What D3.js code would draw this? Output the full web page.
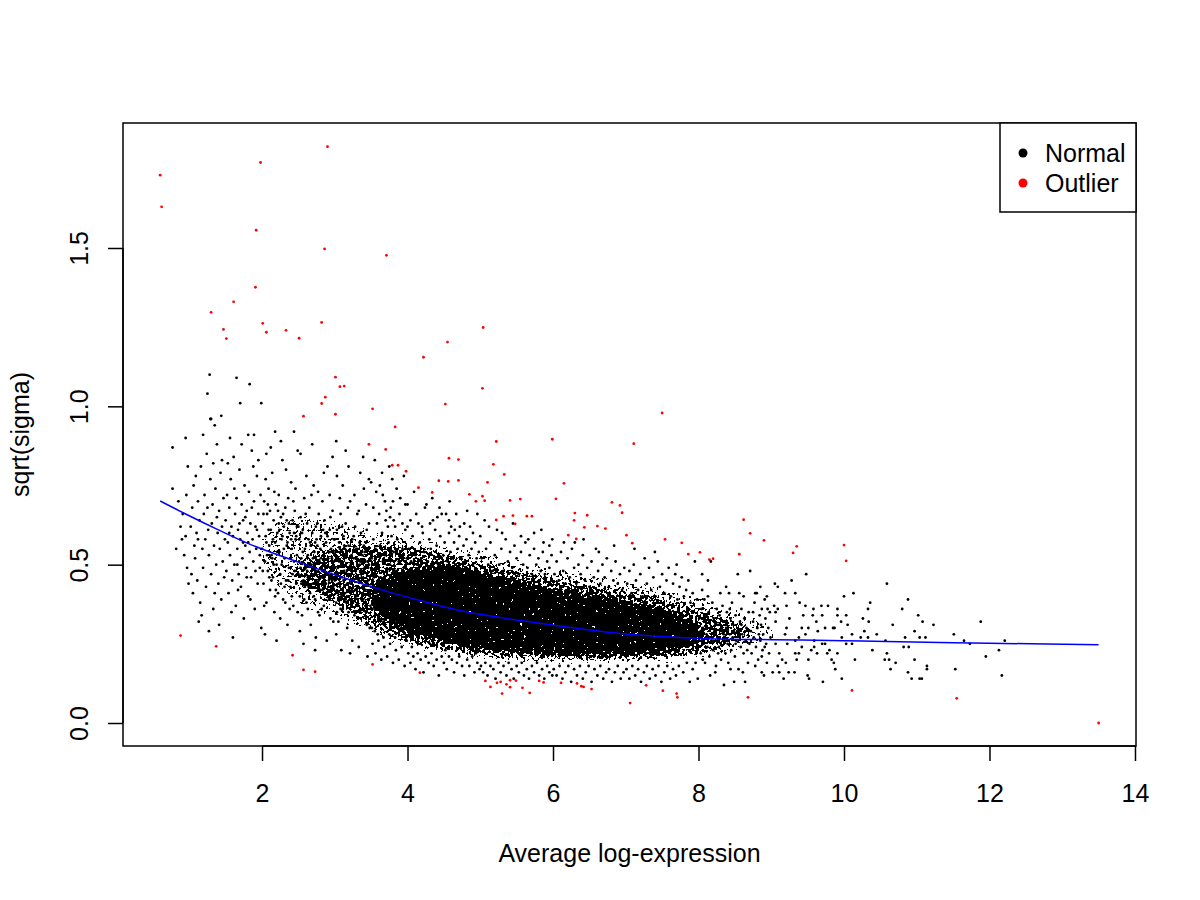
<!DOCTYPE html>
<html>
<head>
<meta charset="utf-8">
<script src="https://cdn.jsdelivr.net/npm/d3@7"></script>
<style>
  body { margin: 0; background: #fff; }
  svg text { font-family: "Liberation Sans", Arial, Helvetica, sans-serif; }
</style>
</head>
<body>
<svg width="1200" height="900"></svg>
<script>
// sigma vs average log-expression (limma plotSA style)
const xTicks = [2, 4, 6, 8, 10, 12, 14];
const yTicks = [0, 0.5, 1.0, 1.5];

// genes flagged as normal: [Amean, sqrt(sigma)]
const normalPts = [
  [.77,.87],[.95,.90],[.77,.74],[.96,.72],[.93,.53],[.95,.59],[.99,.44],[.88,.62],[.82,.55],[.91,.66],[.97,.49],[.85,.70],[.98,.81],[.90,.58],
  [1.03,.47],[1.05,.41],[1.07,.56],[1.13,.32],[1.27,.29],[1.30,.96],[1.35,.94],[1.28,1.10],[1.25,1.04],[1.29,.96],[1.44,.97],
  [1.02,.62],[1.04,.68],[1.06,.75],[1.08,.52],[1.10,.60],[1.11,.45],[1.12,.70],[1.14,.64],[1.15,.38],[1.16,.81],[1.18,.55],[1.19,.49],[1.20,.66],[1.21,.72],[1.22,.58],[1.23,.43],[1.24,.85],[1.26,.61],[1.27,.53],[1.29,.77],[1.30,.47],[1.31,.63],[1.32,.69],[1.33,.36],[1.34,.56],[1.36,.74],[1.37,.50],[1.38,.88],[1.39,.60],[1.40,.44],[1.41,.67],[1.42,.55],[1.43,.79],[1.44,.39],[1.45,.62],[1.46,.51],[1.47,.71],[1.48,.46],[1.49,.58],[1.09,.78],[1.17,.34],[1.25,.68],[1.35,.41],[1.45,.83],[1.19,.91],[1.33,.82],[1.41,.31],[1.12,.58],[1.38,.65],
  [1.65,1.09],[1.83,1.07],[1.70,1.01],[1.99,1.01],[1.56,.90],[1.81,.91],[1.89,.91],
  [1.50,.64],[1.51,.48],[1.52,.72],[1.53,.57],[1.54,.41],[1.55,.68],[1.56,.53],[1.57,.77],[1.58,.62],[1.59,.45],[1.60,.59],[1.61,.84],[1.62,.50],[1.63,.66],[1.64,.37],[1.65,.71],[1.66,.55],[1.67,.61],[1.68,.47],[1.69,.80],[1.70,.58],[1.71,.43],[1.72,.69],[1.73,.52],[1.74,.64],[1.75,.33],[1.76,.75],[1.77,.56],[1.78,.49],[1.79,.67],[1.80,.60],[1.81,.40],[1.82,.73],[1.83,.54],[1.84,.63],[1.85,.46],[1.86,.86],[1.87,.58],[1.88,.51],[1.89,.70],[1.90,.36],[1.91,.62],[1.92,.55],[1.93,.78],[1.94,.44],[1.95,.66],[1.96,.59],[1.97,.49],[1.98,.72],[1.99,.30],[1.53,.82],[1.58,.35],[1.62,.74],[1.67,.42],[1.72,.88],[1.77,.65],[1.84,.39],[1.88,.81],[1.93,.61],[1.97,.53],[1.55,.60],[1.66,.50],[1.74,.57],[1.79,.46],[1.86,.68],[1.91,.48],[1.60,.27],[1.95,.83],[1.69,.63],[1.81,.57],
  [2.26,.89],[2.18,.92],[2.44,.92],[2.06,.85],
  [2.00,.55],[2.01,.63],[2.02,.44],[2.03,.70],[2.04,.51],[2.05,.59],[2.06,.38],[2.07,.66],[2.08,.48],[2.09,.74],[2.10,.56],[2.11,.42],[2.12,.61],[2.13,.53],[2.14,.79],[2.15,.46],[2.16,.64],[2.17,.35],[2.18,.57],[2.19,.69],[2.20,.50],[2.21,.60],[2.22,.41],[2.23,.72],[2.24,.54],[2.25,.47],[2.26,.65],[2.27,.58],[2.28,.83],[2.29,.39],[2.30,.62],[2.31,.52],[2.32,.68],[2.33,.45],[2.34,.56],[2.35,.31],[2.36,.71],[2.37,.49],[2.38,.60],[2.39,.43],[2.40,.76],[2.41,.55],[2.42,.64],[2.43,.37],[2.44,.51],[2.45,.67],[2.46,.58],[2.47,.44],[2.48,.62],[2.49,.86],
  [2.01,.48],[2.03,.37],[2.05,.77],[2.07,.53],[2.09,.61],[2.11,.67],[2.13,.45],[2.15,.58],[2.17,.73],[2.19,.42],[2.21,.54],[2.23,.63],[2.25,.33],[2.27,.50],[2.29,.66],[2.31,.43],[2.33,.80],[2.35,.57],[2.37,.63],[2.39,.52],[2.41,.40],[2.43,.70],[2.45,.48],[2.47,.59],[2.49,.35],
  [2.02,.66],[2.06,.57],[2.10,.46],[2.14,.52],[2.18,.40],[2.22,.67],[2.26,.44],[2.30,.55],[2.34,.64],[2.38,.36],[2.42,.47],[2.46,.74],[2.04,.28],[2.12,.87],[2.20,.26],[2.28,.59],[2.36,.45],[2.44,.60],[2.48,.53],[2.16,.50],[2.24,.61],[2.32,.38],[2.40,.58],[2.08,.69],
  [2.50,.47],[2.51,.58],[2.52,.40],[2.53,.65],[2.54,.52],[2.55,.34],[2.56,.61],[2.57,.45],[2.58,.71],[2.59,.55],[2.60,.49],[2.61,.38],[2.62,.63],[2.63,.53],[2.64,.43],[2.65,.68],[2.66,.57],[2.67,.31],[2.68,.50],[2.69,.60],[2.70,.44],[2.71,.75],[2.72,.54],[2.73,.39],[2.74,.62],[2.75,.48],[2.76,.56],[2.77,.35],[2.78,.66],[2.79,.51],[2.80,.42],[2.81,.59],[2.82,.46],[2.83,.70],[2.84,.53],[2.85,.37],[2.86,.64],[2.87,.49],[2.88,.57],[2.89,.41],[2.90,.81],[2.91,.52],[2.92,.45],[2.93,.61],[2.94,.33],[2.95,.55],[2.96,.48],[2.97,.67],[2.98,.43],[2.99,.58],
  [2.50,.62],[2.52,.29],[2.54,.44],[2.56,.54],[2.58,.39],[2.60,.66],[2.62,.48],[2.64,.58],[2.66,.41],[2.68,.72],[2.70,.52],[2.72,.47],[2.74,.27],[2.76,.63],[2.78,.45],[2.80,.55],[2.82,.36],[2.84,.61],[2.86,.50],[2.88,.44],[2.90,.59],[2.92,.39],[2.94,.65],[2.96,.52],[2.98,.32],
  [2.51,.51],[2.55,.60],[2.59,.43],[2.63,.46],[2.67,.56],[2.71,.40],[2.75,.58],[2.79,.34],[2.83,.48],[2.87,.60],[2.91,.43],[2.95,.47],[2.99,.51],[2.53,.85],[2.61,.78],[2.69,.88],[2.77,.73],[2.85,.79],[2.93,.72],[2.97,.84],[2.57,.25],[2.73,.23],[2.89,.26],[2.65,.50],[2.81,.52],[2.53,.49],[2.63,.36],[2.73,.57],[2.83,.42],[2.93,.54],
  [3.02,.89],
  [3.00,.45],[3.01,.54],[3.02,.38],[3.03,.61],[3.04,.49],[3.05,.32],[3.06,.57],[3.07,.43],[3.08,.66],[3.09,.51],[3.10,.46],[3.11,.36],[3.12,.59],[3.13,.48],[3.14,.41],[3.15,.63],[3.16,.53],[3.17,.30],[3.18,.47],[3.19,.56],[3.20,.42],[3.21,.70],[3.22,.50],[3.23,.37],[3.24,.58],[3.25,.45],[3.26,.52],[3.27,.34],[3.28,.62],[3.29,.48],[3.30,.40],[3.31,.55],[3.32,.43],[3.33,.67],[3.34,.50],[3.35,.35],[3.36,.60],[3.37,.46],[3.38,.53],[3.39,.39],[3.40,.74],[3.41,.49],[3.42,.42],[3.43,.57],[3.44,.31],[3.45,.51],[3.46,.45],[3.47,.63],[3.48,.40],[3.49,.54],
  [3.00,.58],[3.02,.28],[3.04,.41],[3.06,.51],[3.08,.36],[3.10,.62],[3.12,.45],[3.14,.55],[3.16,.38],[3.18,.68],[3.20,.49],[3.22,.44],[3.24,.26],[3.26,.59],[3.28,.42],[3.30,.52],[3.32,.33],[3.34,.57],[3.36,.47],[3.38,.41],[3.40,.56],[3.42,.37],[3.44,.61],[3.46,.49],[3.48,.30],
  [3.01,.47],[3.03,.35],[3.05,.44],[3.07,.55],[3.09,.40],[3.11,.50],[3.13,.56],[3.15,.39],[3.17,.44],[3.19,.35],[3.21,.47],[3.23,.53],[3.25,.38],[3.27,.49],[3.29,.55],[3.31,.37],[3.33,.45],[3.35,.51],[3.37,.39],[3.39,.48],[3.41,.54],[3.43,.35],[3.45,.44],[3.47,.50],[3.49,.37],
  [3.03,.78],[3.11,.75],[3.19,.81],[3.27,.72],[3.35,.79],[3.43,.69],[3.09,.23],[3.21,.22],[3.33,.24],[3.45,.21],[3.15,.86],[3.39,.84],[3.07,.71],[3.31,.66],[3.47,.77],
  [3.79,.77],[3.66,.72],[3.80,.70],[3.62,.75],[3.76,.65],[3.70,.64],[3.50,.76],
  [3.50,.43],[3.51,.52],[3.52,.36],[3.53,.58],[3.54,.46],[3.55,.29],[3.56,.55],[3.57,.41],[3.58,.63],[3.59,.49],[3.60,.44],[3.61,.33],[3.62,.56],[3.63,.46],[3.64,.39],[3.65,.60],[3.66,.51],[3.67,.27],[3.68,.44],[3.69,.53],[3.70,.40],[3.71,.67],[3.72,.48],[3.73,.34],[3.74,.57],[3.75,.43],[3.76,.50],[3.77,.31],[3.78,.59],[3.79,.46],[3.80,.38],[3.81,.54],[3.82,.41],[3.83,.62],[3.84,.48],[3.85,.32],[3.86,.58],[3.87,.44],[3.88,.51],[3.89,.36],[3.90,.71],[3.91,.47],[3.92,.39],[3.93,.55],[3.94,.29],[3.95,.49],[3.96,.42],[3.97,.61],[3.98,.37],[3.99,.52],
  [3.52,.25],[3.56,.22],[3.60,.26],[3.64,.20],[3.68,.24],[3.72,.21],[3.76,.25],[3.80,.19],[3.84,.23],[3.88,.20],[3.92,.24],[3.96,.18],
  [3.53,.68],[3.57,.73],[3.61,.66],[3.65,.79],[3.69,.70],[3.73,.62],[3.77,.68],[3.81,.64],[3.85,.74],[3.89,.66],[3.93,.63],[3.97,.69],[3.55,.83],[3.75,.81],[3.95,.78],
  [3.51,.30],[3.59,.28],[3.67,.32],[3.75,.28],[3.83,.27],[3.91,.30],[3.99,.26],
  [4.09,.73],[4.26,.69],[4.00,.69],[4.24,.68],[4.44,.68],[4.67,.66],[4.96,.66],[4.53,.66],[4.47,.66],[4.15,.63],[4.00,.62],[4.38,.61],[4.60,.62],[4.72,.62],[4.86,.62],[5.00,.59],
  [4.02,.55],[4.05,.51],[4.07,.59],[4.11,.53],[4.13,.50],[4.17,.57],[4.19,.52],[4.21,.60],[4.23,.54],[4.28,.51],[4.30,.58],[4.32,.55],[4.35,.64],[4.37,.52],[4.40,.56],[4.42,.50],[4.45,.59],[4.49,.53],[4.51,.57],[4.55,.51],[4.57,.60],[4.59,.54],[4.62,.52],[4.64,.57],[4.66,.50],[4.69,.55],[4.71,.59],[4.74,.52],[4.77,.56],[4.79,.51],[4.81,.58],[4.84,.53],[4.88,.55],[4.90,.50],[4.93,.57],[4.95,.52],[4.98,.54],[4.04,.64],[4.12,.66],[4.20,.62],[4.31,.63],[4.41,.65],[4.57,.64],[4.65,.61],[4.78,.63],[4.90,.60],[4.34,.71],[4.58,.70],[4.82,.67],
  [4.01,.22],[4.04,.19],[4.08,.21],[4.11,.17],[4.14,.22],[4.18,.20],[4.22,.16],[4.25,.21],[4.29,.19],[4.33,.22],[4.36,.18],[4.40,.20],[4.43,.15],[4.47,.21],[4.50,.19],[4.54,.17],[4.57,.21],[4.61,.20],[4.64,.16],[4.68,.19],[4.71,.21],[4.75,.18],[4.78,.15],[4.82,.20],[4.85,.18],[4.89,.21],[4.92,.16],[4.96,.19],[4.99,.17],[4.06,.24],[4.31,.25],[4.52,.23],[4.73,.24],[4.94,.22],
  [5.06,.64],[5.56,.59],[5.74,.60],[5.99,.58],[5.87,.57],
  [5.02,.52],[5.05,.49],[5.08,.55],[5.11,.50],[5.14,.57],[5.17,.48],[5.20,.53],[5.23,.61],[5.26,.50],[5.29,.55],[5.32,.48],[5.35,.58],[5.38,.51],[5.41,.54],[5.44,.49],[5.47,.56],[5.50,.52],[5.53,.47],[5.56,.54],[5.59,.50],[5.62,.57],[5.65,.49],[5.68,.53],[5.71,.47],[5.74,.55],[5.77,.50],[5.80,.52],[5.83,.48],[5.86,.54],[5.89,.47],[5.92,.51],[5.95,.49],[5.98,.53],[5.12,.62],[5.30,.60],[5.45,.63],[5.66,.58],[5.84,.61],[5.95,.56],
  [5.01,.18],[5.04,.16],[5.07,.19],[5.10,.15],[5.14,.18],[5.18,.17],[5.21,.14],[5.25,.19],[5.28,.16],[5.32,.18],[5.36,.15],[5.39,.19],[5.43,.17],[5.46,.14],[5.50,.18],[5.53,.16],[5.57,.19],[5.60,.15],[5.64,.17],[5.67,.14],[5.71,.18],[5.74,.16],[5.78,.19],[5.81,.15],[5.85,.17],[5.88,.14],[5.92,.18],[5.95,.16],[5.99,.15],
  [6.30,.57],
  [6.02,.47],[6.05,.51],[6.08,.45],[6.11,.54],[6.14,.48],[6.17,.44],[6.20,.52],[6.23,.46],[6.26,.55],[6.29,.49],[6.32,.44],[6.35,.50],[6.38,.47],[6.41,.53],[6.44,.45],[6.47,.49],[6.50,.43],[6.53,.51],[6.56,.46],[6.59,.55],[6.62,.48],[6.65,.44],[6.68,.50],[6.71,.46],[6.74,.52],[6.77,.43],[6.80,.48],[6.83,.45],[6.86,.51],[6.89,.44],[6.92,.47],[6.95,.42],[6.98,.49],[6.15,.57],[6.42,.58],[6.63,.54],[6.84,.56],[6.22,.41],[6.55,.40],
  [6.01,.17],[6.05,.15],[6.09,.18],[6.13,.14],[6.17,.16],[6.21,.18],[6.25,.13],[6.29,.17],[6.33,.15],[6.37,.18],[6.41,.14],[6.45,.16],[6.49,.18],[6.53,.13],[6.57,.17],[6.61,.15],[6.65,.18],[6.69,.14],[6.73,.16],[6.77,.17],[6.81,.13],[6.85,.16],[6.89,.18],[6.93,.14],[6.97,.16],
  [7.02,.44],[7.05,.48],[7.08,.41],[7.11,.50],[7.14,.45],[7.17,.42],[7.20,.47],[7.23,.40],[7.26,.52],[7.29,.44],[7.32,.49],[7.35,.42],[7.38,.46],[7.41,.40],[7.44,.51],[7.47,.43],[7.50,.47],[7.53,.41],[7.56,.45],[7.59,.49],[7.62,.40],[7.65,.44],[7.68,.47],[7.71,.39],[7.74,.43],[7.77,.46],[7.80,.40],[7.83,.42],[7.86,.45],[7.89,.38],[7.92,.41],[7.95,.51],[7.98,.39],[7.12,.55],[7.40,.54],[7.70,.50],
  [7.01,.17],[7.05,.14],[7.09,.18],[7.13,.15],[7.17,.17],[7.21,.13],[7.25,.16],[7.29,.18],[7.33,.14],[7.37,.17],[7.41,.15],[7.45,.18],[7.49,.13],[7.53,.16],[7.57,.18],[7.61,.14],[7.65,.17],[7.69,.15],[7.73,.18],[7.79,.16],[7.84,.19],[7.88,.13],[7.92,.17],[7.96,.19],[7.99,.14],
  [8.05,.47],[8.54,.47],[8.71,.48],[8.13,.45],[8.05,.42],[8.30,.41],[8.42,.41],[8.56,.41],[8.78,.41],[8.94,.40],[8.17,.51],[8.80,.41],[8.91,.39],[8.87,.36],[8.95,.36],[8.98,.35],[8.16,.15],[8.35,.12],[8.49,.13],[8.64,.13],[8.87,.16],[8.90,.15],[8.94,.19],[8.87,.21],
  [8.01,.33],[8.02,.27],[8.03,.22],[8.04,.36],[8.06,.30],[8.07,.25],[8.08,.39],[8.09,.19],[8.10,.32],[8.11,.28],[8.12,.24],[8.14,.35],[8.15,.21],[8.17,.30],[8.18,.26],[8.19,.38],[8.20,.23],[8.21,.33],[8.22,.29],[8.24,.18],[8.25,.36],[8.26,.27],[8.27,.31],[8.28,.24],[8.29,.34],[8.31,.20],[8.32,.29],[8.33,.37],[8.34,.26],[8.36,.32],[8.37,.22],[8.38,.30],[8.39,.35],[8.40,.25],[8.41,.19],[8.43,.28],[8.44,.33],[8.45,.23],[8.46,.38],[8.47,.27],[8.48,.31],[8.50,.21],[8.51,.34],[8.52,.26],[8.53,.29],[8.55,.17],[8.57,.32],[8.58,.24],[8.59,.36],[8.60,.28],[8.62,.22],[8.63,.33],[8.65,.26],[8.66,.30],[8.68,.19],[8.69,.35],[8.70,.25],[8.72,.29],[8.73,.22],[8.75,.32],[8.76,.27],[8.77,.38],[8.79,.24],[8.81,.30],[8.82,.20],[8.84,.34],[8.85,.26],[8.86,.31],[8.88,.23],[8.89,.28],[8.92,.33],[8.93,.25],[8.96,.30],[8.97,.22],[8.99,.27],
  [8.03,.29],[8.11,.34],[8.19,.27],[8.27,.22],[8.35,.28],[8.43,.36],[8.51,.25],[8.59,.31],[8.67,.23],[8.75,.35],[8.83,.28],[8.91,.24],[8.06,.20],[8.23,.16],[8.44,.17],[8.61,.16],[8.78,.18],[8.13,.40],[8.38,.43],[8.62,.40],[8.85,.43],
  [9.48,.47],[9.28,.45],[9.05,.44],[9.09,.43],[9.33,.41],[9.19,.41],[9.39,.38],[9.47,.37],[9.69,.37],[9.78,.37],[9.58,.36],[9.91,.36],[9.70,.34],[9.91,.34],[9.44,.34],[9.57,.34],[9.62,.32],[9.74,.30],[9.85,.30],[9.87,.30],[9.96,.32],[9.97,.27],[9.91,.22],[9.83,.20],[9.86,.19],[9.88,.17],[9.97,.14],[9.71,.13],[9.52,.14],[9.50,.15],[9.32,.16],[9.24,.16],[9.11,.16],[9.02,.16],[9.17,.14],[9.51,.20],[9.59,.24],[9.55,.23],[9.63,.22],[9.77,.22],[9.80,.23],[9.74,.25],[9.70,.25],[9.59,.26],[9.64,.29],[9.51,.30],[9.42,.30],[9.47,.28],[9.38,.27],[9.33,.26],[9.42,.24],[9.38,.22],[9.33,.22],[9.35,.20],[9.20,.19],[9.15,.20],[9.09,.18],[9.11,.22],[9.06,.25],[9.22,.25],[9.19,.28],[9.21,.30],[9.25,.33],[9.06,.32],[9.06,.35],[9.09,.36],[9.21,.37],[9.04,.37],
  [10.59,.44],[10.00,.40],[10.13,.41],[10.36,.38],[10.88,.39],[10.80,.36],[10.33,.36],[11.02,.34],[11.08,.32],[11.23,.31],[11.88,.32],[10.67,.31],[10.26,.33],[10.34,.32],[10.28,.29],[10.23,.27],[10.33,.27],[10.45,.28],[10.84,.27],[10.97,.29],[11.04,.27],[11.12,.27],[11.51,.28],[11.65,.26],[12.21,.26],[10.57,.26],[10.82,.24],[10.89,.24],[11.73,.25],[10.39,.23],[12.13,.23],[11.95,.21],[10.15,.20],[10.56,.20],[10.62,.20],[10.59,.22],[10.97,.20],[10.71,.19],[10.64,.17],[11.14,.18],[11.14,.17],[11.53,.17],[10.88,.16],[10.93,.14],[11.04,.14],[11.07,.14],[12.17,.15],[10.05,.31],[10.11,.28],[10.03,.25],[10.11,.25],[10.03,.34]
];

// genes flagged as outliers
const outlierPts = [
  [2.90,1.82],[1.98,1.77],[0.60,1.73],[0.62,1.63],[1.92,1.556],[2.86,1.497],[3.71,1.477],[1.91,1.376],[1.61,1.33],[1.30,1.297],[1.47,1.243],[1.51,1.214],[2.01,1.262],[2.06,1.234],[2.33,1.24],[2.51,1.215],[2.82,1.265],[5.04,1.249],[4.55,1.203],[4.22,1.155],[5.03,1.057],[3.01,1.092],[3.07,1.062],[3.13,1.064],[2.87,1.029],[2.82,1.009],[4.52,1.007],[3.52,0.992],[2.57,0.969],[3.01,0.975],[7.50,0.979],[3.83,0.935],[3.70,0.864],[5.22,0.889],[5.99,0.896],[7.11,0.882],[3.47,0.88],[3.79,0.814],[3.87,0.814],[3.98,0.795],[4.57,0.836],[4.70,0.832],[5.18,0.817],[5.33,0.785],[5.10,0.76],[4.43,0.765],[4.56,0.763],[4.70,0.766],[4.15,0.743],[4.34,0.728],[4.85,0.722],[5.03,0.716],[4.94,0.70],[5.06,0.702],[6.15,0.757],[5.41,0.703],[5.55,0.707],[6.04,0.708],[6.81,0.697],[6.92,0.687],[6.30,0.663],[6.95,0.664],[6.47,0.656],[5.22,0.641],[5.32,0.653],[5.45,0.655],[5.64,0.653],[5.71,0.653],[5.48,0.629],[6.29,0.64],[6.43,0.618],[6.61,0.622],[6.72,0.614],[6.21,0.593],[6.32,0.581],[7.01,0.593],[7.09,0.568],[7.54,0.58],[8.62,0.642],[8.71,0.599],[7.77,0.569],[8.90,0.577],[8.02,0.539],[7.86,0.533],[8.15,0.516],[8.20,0.519],[8.56,0.533],[9.35,0.558],[9.30,0.537],[10.00,0.562],[10.03,0.512],
  [0.88,0.276],[1.37,0.242],[2.42,0.214],[2.57,0.168],[2.73,0.162],[3.52,0.185],[4.17,0.159],[5.07,0.133],[5.14,0.114],[5.23,0.127],[5.28,0.13],[5.36,0.122],[5.41,0.135],[5.41,0.113],[5.49,0.134],[5.30,0.093],[5.58,0.111],[5.68,0.095],[5.81,0.133],[5.87,0.128],[6.11,0.127],[6.33,0.125],[6.39,0.116],[6.42,0.114],[6.53,0.107],[7.06,0.063],[7.28,0.119],[7.51,0.102],[7.70,0.093],[7.71,0.081],[8.68,0.081],[10.11,0.103],[11.55,0.078],[13.50,0.0]
];

// where the normal genes pile up too thickly to tell apart: three density
// zones (medium, dense, nearly solid)
const midX   = [1.9, 2.4, 3.0, 3.5, 4.0, 5.0, 6.0, 7.0, 8.0, 8.6, 9.2];
const midLo  = [0.48, 0.37, 0.31, 0.26, 0.22, 0.18, 0.17, 0.17, 0.18, 0.21, 0.26];
const midHi  = [0.60, 0.68, 0.66, 0.63, 0.61, 0.56, 0.51, 0.47, 0.42, 0.37, 0.31];
const denseX  = [2.4, 3.0, 3.5, 4.0, 4.5, 5.0, 6.0, 7.0, 7.8, 8.4, 8.8];
const denseLo = [0.44, 0.36, 0.29, 0.24, 0.22, 0.20, 0.19, 0.19, 0.20, 0.23, 0.27];
const denseHi = [0.52, 0.57, 0.58, 0.57, 0.55, 0.52, 0.47, 0.43, 0.39, 0.34, 0.30];
const coreX  = [3.5, 4.0, 4.5, 5.0, 6.0, 7.0, 7.6, 8.1];
const coreLo = [0.36, 0.28, 0.25, 0.23, 0.21, 0.21, 0.22, 0.26];
const coreHi = [0.44, 0.49, 0.50, 0.48, 0.43, 0.39, 0.36, 0.30];

// fitted prior trend
const trendX = [0.60, 0.95, 1.40, 1.83, 2.50, 3.00, 3.62, 4.20, 4.72, 5.30, 5.82, 6.40, 6.92, 7.50, 8.02, 9.00, 10.00, 10.58, 12.00, 13.50];
const trendY = [0.701, 0.660, 0.610, 0.565, 0.508, 0.468, 0.422, 0.385, 0.355, 0.332, 0.315, 0.297, 0.283, 0.273, 0.267, 0.263, 0.260, 0.257, 0.252, 0.247];

const legendLabels = ["Normal", "Outlier"];
const legendColors = ["#000000", "#ff0000"];

const svg = d3.select("svg"),
    margin = { top: 123, right: 64, bottom: 154, left: 123 },
    width = +svg.attr("width") - margin.left - margin.right,
    height = +svg.attr("height") - margin.top - margin.bottom;

const g = svg.append("g").attr("transform", `translate(${margin.left},${margin.top})`);

const x = d3.scaleLinear().domain([0.089, 14.014]).range([0, width]);
const y = d3.scaleLinear().domain([-0.0726, 1.8947]).range([height, 0]);

// speckle texture so the zones read as piled-up dots instead of flat shapes
const defs = svg.append("defs");
function speckle(id, cut, blur) {
    const f = defs.append("filter").attr("id", id)
        .attr("x", "-10%").attr("y", "-30%").attr("width", "120%").attr("height", "160%")
        .attr("color-interpolation-filters", "sRGB");
    f.append("feGaussianBlur").attr("in", "SourceAlpha").attr("stdDeviation", blur).attr("result", "soft");
    f.append("feTurbulence").attr("type", "fractalNoise").attr("baseFrequency", 0.33)
        .attr("numOctaves", 2).attr("seed", 4).attr("result", "noise");
    f.append("feColorMatrix").attr("in", "noise").attr("type", "matrix")
        .attr("values", "0 0 0 0 0  0 0 0 0 0  0 0 0 0 0  1 0 0 0 0").attr("result", "na");
    f.append("feComposite").attr("in", "na").attr("in2", "soft").attr("operator", "arithmetic")
        .attr("k1", 1).attr("k2", 0).attr("k3", 0).attr("k4", 0).attr("result", "prod");
    f.append("feComponentTransfer").attr("in", "prod")
        .append("feFuncA").attr("type", "discrete")
        .attr("tableValues", d3.range(40).map(i => i / 40 >= cut ? 1 : 0).join(" "));
}
speckle("spMid", 0.58, 7);
speckle("spDense", 0.43, 5);
speckle("spCore", 0.24, 4);

const zone = d3.area().x(d => x(d.x)).y0(d => y(d.lo)).y1(d => y(d.hi)).curve(d3.curveCatmullRom);
function drawZone(xs, los, his, filterId) {
    g.append("path")
        .datum(xs.map((v, i) => ({ x: v, lo: los[i], hi: his[i] })))
        .attr("d", zone)
        .attr("fill", "#000")
        .attr("filter", `url(#${filterId})`);
}
drawZone(midX, midLo, midHi, "spMid");
drawZone(denseX, denseLo, denseHi, "spDense");
drawZone(coreX, coreLo, coreHi, "spCore");

// points
g.append("g").selectAll("circle")
    .data(normalPts)
    .enter().append("circle")
    .attr("cx", d => x(d[0]))
    .attr("cy", d => y(d[1]))
    .attr("r", 1.4)
    .attr("fill", "#000");

g.append("g").selectAll("circle")
    .data(outlierPts)
    .enter().append("circle")
    .attr("cx", d => x(d[0]))
    .attr("cy", d => y(d[1]))
    .attr("r", 1.4)
    .attr("fill", "#ff0000");

// trend
const trend = trendX.map((v, i) => ({ x: v, y: trendY[i] }));
g.append("path")
    .datum(trend)
    .attr("d", d3.line().x(d => x(d.x)).y(d => y(d.y)).curve(d3.curveMonotoneX))
    .attr("fill", "none")
    .attr("stroke", "#0000ff")
    .attr("stroke-width", 1.5);

// frame
g.append("rect")
    .attr("width", width)
    .attr("height", height)
    .attr("fill", "none")
    .attr("stroke", "#000")
    .attr("stroke-width", 1.5);

// x axis, R style: line only spans the ticks
const xAxis = g.append("g")
    .attr("transform", `translate(0,${height})`)
    .call(d3.axisBottom(x).tickValues(xTicks).tickSize(15).tickPadding(23).tickFormat(d3.format("d")));
xAxis.select(".domain").remove();
xAxis.append("line")
    .attr("x1", x(xTicks[0])).attr("x2", x(xTicks[xTicks.length - 1]))
    .attr("stroke", "#000").attr("stroke-width", 1.5);
xAxis.selectAll(".tick line").attr("stroke-width", 1.5);
xAxis.selectAll("text").style("font-size", "25px").attr("fill", "#000");

const yAxis = g.append("g")
    .call(d3.axisLeft(y).tickValues(yTicks).tickSize(15).tickFormat(d3.format(".1f")));
yAxis.select(".domain").remove();
yAxis.append("line")
    .attr("y1", y(yTicks[0])).attr("y2", y(yTicks[yTicks.length - 1]))
    .attr("stroke", "#000").attr("stroke-width", 1.5);
yAxis.selectAll(".tick line").attr("stroke-width", 1.5);
yAxis.selectAll("text")
    .attr("transform", "rotate(-90)")
    .attr("x", 0)
    .attr("y", -35)
    .attr("dy", 0)
    .attr("text-anchor", "middle")
    .attr("fill", "#000")
    .style("font-size", "25px");

// axis titles
svg.append("text")
    .attr("x", margin.left + width / 2)
    .attr("y", 862)
    .attr("text-anchor", "middle")
    .style("font-size", "25px")
    .text("Average log-expression");

svg.append("text")
    .attr("transform", `translate(29,${margin.top + height / 2}) rotate(-90)`)
    .attr("text-anchor", "middle")
    .style("font-size", "25px")
    .text("sqrt(sigma)");

// legend
const legend = svg.append("g").attr("transform", "translate(1000,123)");
legend.append("rect")
    .attr("width", 136)
    .attr("height", 89)
    .attr("fill", "#fff")
    .attr("stroke", "#000")
    .attr("stroke-width", 1.5);
legendLabels.forEach((lab, i) => {
    legend.append("circle")
        .attr("cx", 23)
        .attr("cy", 30 + i * 30)
        .attr("r", 4.5)
        .attr("fill", legendColors[i]);
    legend.append("text")
        .attr("x", 45)
        .attr("y", 30 + i * 30)
        .attr("dy", "0.35em")
        .style("font-size", "25px")
        .text(lab);
});
</script>
</body>
</html>
